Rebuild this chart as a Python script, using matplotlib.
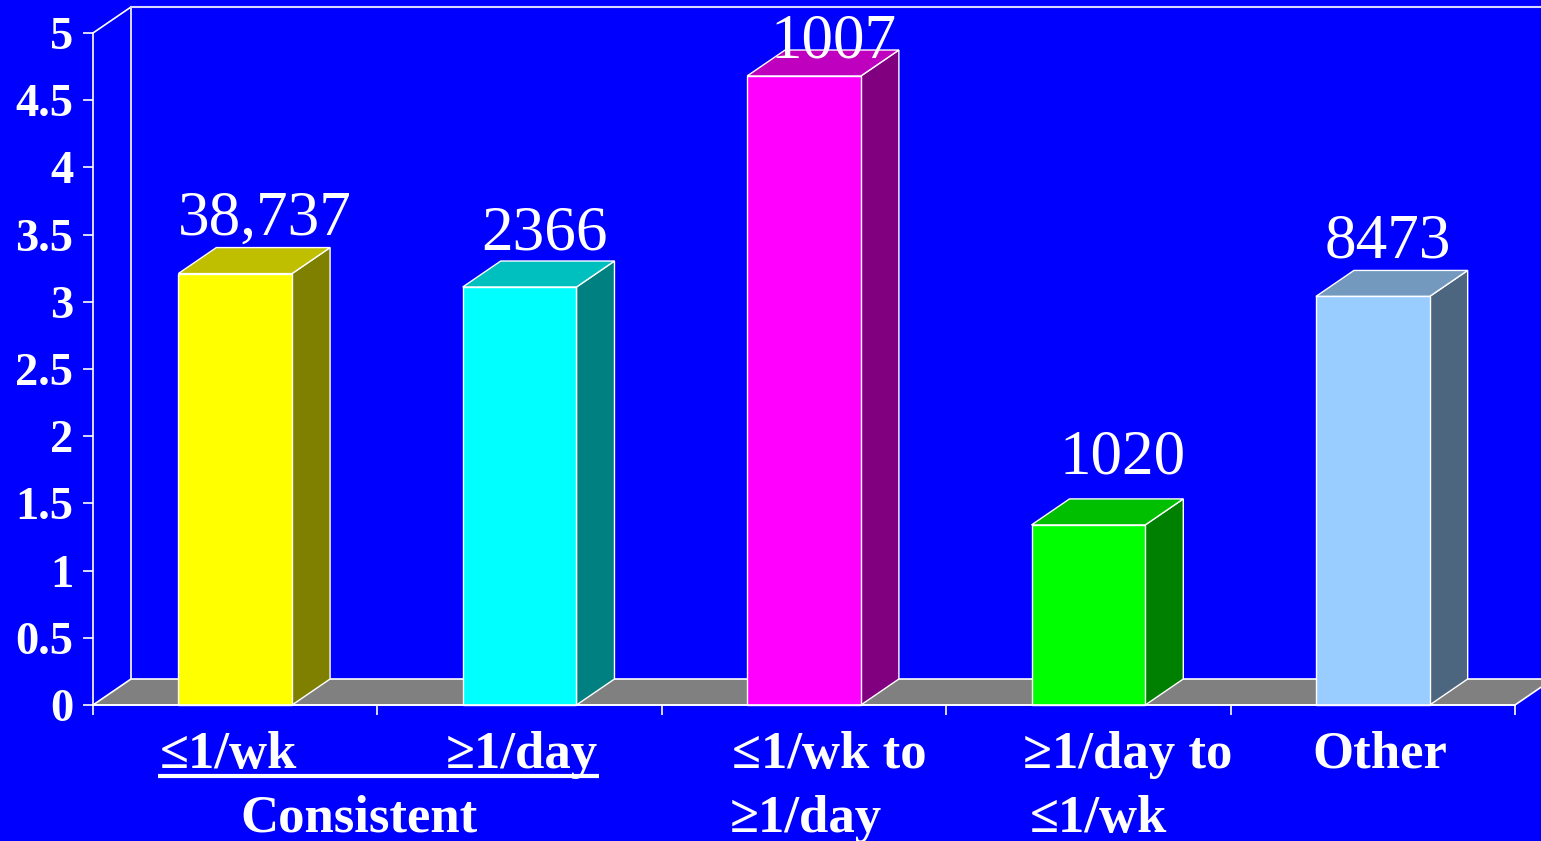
import matplotlib
matplotlib.use("Agg")
from matplotlib import pyplot as plt
from matplotlib.patches import Polygon
from matplotlib.ticker import FuncFormatter, MultipleLocator
from matplotlib.colors import to_rgb

# rates per group
categories = ["≤1/wk", "≥1/day", "≤1/wk to\n≥1/day", "≥1/day to\n≤1/wk", "Other"]
values = [3.21, 3.11, 4.68, 1.34, 3.04]
counts = ["38,737", "2366", "1007", "1020", "8473"]
group_label = "Consistent"
bar_colors = ["#FFFF00", "#00FFFF", "#FF00FF", "#00FF00", "#99CCFF"]

W, H, DPI = 1541, 841, 100
BG = "#0000FF"
SERIF = ["Liberation Serif", "DejaVu Serif"]

fig = plt.figure(figsize=(W / DPI, H / DPI), dpi=DPI, facecolor=BG)
ax = fig.add_axes([93 / W, 136 / H, 1422 / W, 672 / H])
ax.set_facecolor("none")
ax.set_xlim(0, 5)
ax.set_ylim(0, 5)

# depth of the 3d box, in data units (38 px across, 26 px up)
px_x = 1422 / 5
px_y = 672 / 5
DX = 38 / px_x
DY = 26 / px_y
EDGE = "white"


def shade(color, f):
    r, g, b = to_rgb(color)
    return (r * f, g * f, b * f)


def poly(pts, fc, z=2, lw=1.0):
    ax.add_patch(Polygon(pts, closed=True, facecolor=fc, edgecolor=EDGE,
                         linewidth=lw, zorder=z, clip_on=False))


# back wall outline and floor
ax.plot([DX, DX], [DY, 5 + DY], color=EDGE, lw=1.2, clip_on=False, zorder=1)
ax.plot([0, DX], [5, 5 + DY], color=EDGE, lw=1.2, clip_on=False, zorder=1)
ax.plot([DX, 5 + DX], [5 + DY, 5 + DY], color="#D8D8FF", lw=1.5, clip_on=False, zorder=1)
poly([(0, 0), (5, 0), (5 + DX, DY), (DX, DY)], "#808080", z=1, lw=1.2)

# columns: front, top and right side
half = 0.2
for i, (v, c) in enumerate(zip(values, bar_colors)):
    x0, x1 = i + 0.5 - half, i + 0.5 + half
    poly([(x1, 0), (x1 + DX, DY), (x1 + DX, v + DY), (x1, v)], shade(c, 0.5), z=3)
    poly([(x0, v), (x1, v), (x1 + DX, v + DY), (x0 + DX, v + DY)], shade(c, 0.75), z=3)
    poly([(x0, 0), (x1, 0), (x1, v), (x0, v)], c, z=4)

# count labels above each column (pixel nudges: right, up)
nudge = [(30, 13), (25, 12), (30, 13), (34, 25), (15, 13)]
for i, (v, n) in enumerate(zip(values, counts)):
    dx_px, up_px = nudge[i]
    y = min(v + DY + up_px / px_y, 4.82)
    ax.text(i + 0.5 + dx_px / px_x, y, n, ha="center", va="baseline",
            color="white", fontsize=45.5, family=SERIF, zorder=6, clip_on=False)

# axes styling
for side in ["top", "right"]:
    ax.spines[side].set_visible(False)
for side in ["left", "bottom"]:
    ax.spines[side].set_color(EDGE)
    ax.spines[side].set_linewidth(1.2)
    ax.spines[side].set_zorder(5)
ax.yaxis.set_major_locator(MultipleLocator(0.5))
ax.yaxis.set_major_formatter(FuncFormatter(lambda y, _: "%g" % y))
ax.xaxis.set_major_locator(MultipleLocator(1))
ax.tick_params(axis="y", colors=EDGE, length=7.2, width=1.2, pad=7)
ax.tick_params(axis="x", colors=EDGE, length=7.2, width=1.2, labelbottom=False)
for lab in ax.get_yticklabels():
    lab.set_family(SERIF)
    lab.set_fontweight("bold")
    lab.set_fontsize(33.5)
    lab.set_color("white")

# category labels below the floor
tr = ax.get_xaxis_transform()
line1 = (705 - 768) / 672
line2 = (705 - 832) / 672
cat_style = dict(color="white", fontsize=38, fontweight="bold", family=SERIF,
                 va="baseline", transform=tr, clip_on=False)
cat_x = [(0.475, "center"), (1.507, "center"), (2.247, "left"), (3.27, "left"), (4.525, "center")]
cat_x2 = [None, None, 2.24, 3.295, None]
for i, name in enumerate(categories):
    parts = name.split("\n")
    x, ha = cat_x[i]
    ax.text(x, line1, parts[0], ha=ha, **cat_style)
    if len(parts) > 1:
        ax.text(cat_x2[i], line2, parts[1], ha="left", **cat_style)

# the two consistent groups share an underline and a caption
ul_y = (705 - 776) / 672
ax.plot([(158 - 93) / px_x, (599 - 93) / px_x], [ul_y, ul_y], color="white",
        lw=3, transform=tr, clip_on=False, solid_capstyle="butt")
ax.text(0.936, line2, group_label, ha="center", **cat_style)

fig.savefig("out.png", dpi=DPI, facecolor=BG)
